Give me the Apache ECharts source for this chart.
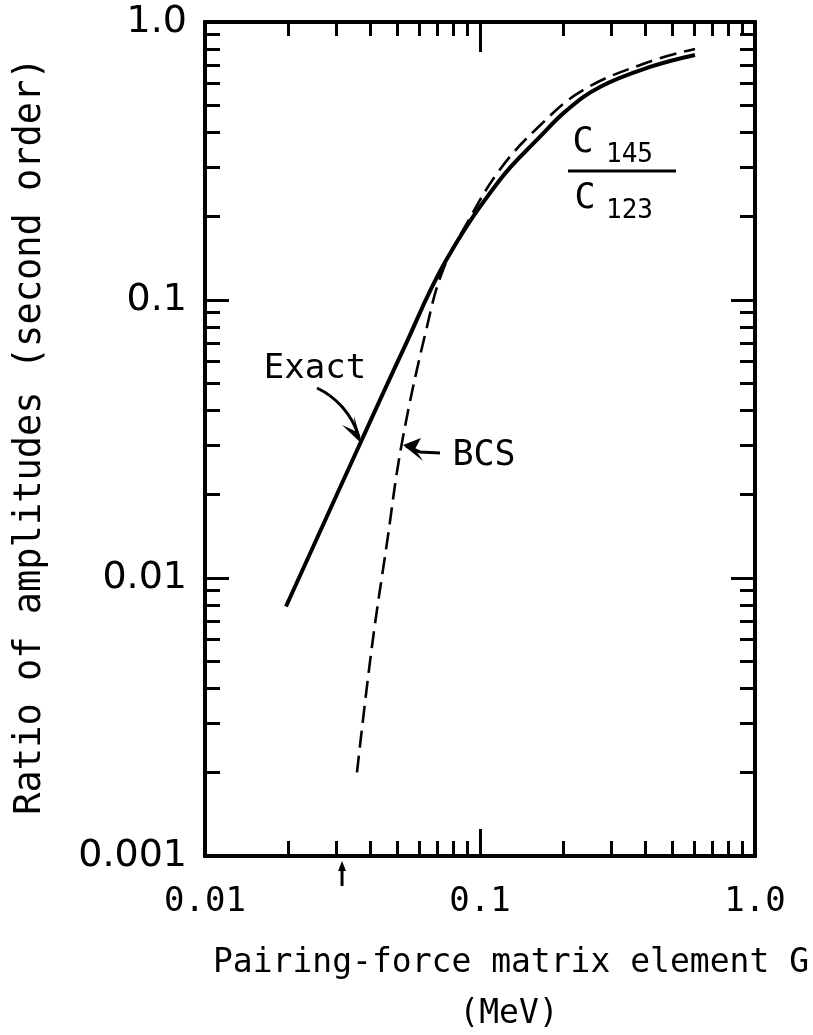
<!DOCTYPE html>
<html>
<head>
<meta charset="utf-8">
<script src="https://cdn.jsdelivr.net/npm/echarts@6/dist/echarts.min.js"></script>
<style>
  html, body { margin: 0; padding: 0; background: #fff; }
  #chart { width: 813px; height: 1035px; }
</style>
</head>
<body>
<div id="chart"></div>
<script>
// 曲线数据
const G_EXACT = [0.0197, 0.0369, 0.0525, 0.075, 0.118, 0.165, 0.207, 0.273, 0.415, 0.605];
const R_EXACT = [0.0079, 0.0309, 0.066, 0.138, 0.27, 0.386, 0.482, 0.584, 0.689, 0.761];

const G_BCS = [0.0357, 0.0404, 0.0459, 0.052, 0.0641, 0.0733, 0.0897, 0.118, 0.163, 0.237, 0.41, 0.605];
const R_BCS = [0.0020, 0.0056, 0.0134, 0.0306, 0.080, 0.128, 0.189, 0.294, 0.419, 0.569, 0.718, 0.80];

// 刻度
const X_LABEL_VALUES = [0.01, 0.1, 1];
const X_LABELS = ['0.01', '0.1', '1.0'];
const Y_LABEL_VALUES = [0.001, 0.01, 0.1, 1];
const Y_LABELS = ['0.001', '0.01', '0.1', '1.0'];
const X_MINOR = [0.02, 0.03, 0.04, 0.05, 0.06, 0.07, 0.08, 0.09,
                 0.2, 0.3, 0.4, 0.5, 0.6, 0.7, 0.8, 0.9];
const X_MAJOR = [0.1];
const Y_MINOR = [0.002, 0.003, 0.004, 0.005, 0.006, 0.007, 0.008, 0.009,
                 0.02, 0.03, 0.04, 0.05, 0.06, 0.07, 0.08, 0.09,
                 0.2, 0.3, 0.4, 0.5, 0.6, 0.7, 0.8, 0.9];
const Y_MAJOR = [0.01, 0.1];

const ARROW_G = 0.0315;   // 横轴下方的小箭头

const INK = '#000';
const MONO = '"DejaVu Sans Mono", monospace';
const SANS = '"DejaVu Sans", sans-serif';

function pickLabel(values, labels, v) {
    let best = 0, d = Infinity;
    values.forEach((x, i) => {
        const dd = Math.abs(Math.log10(x) - Math.log10(v));
        if (dd < d) { d = dd; best = i; }
    });
    return labels[best];
}

function xAxisDef(pos, ticks, len, withLabels) {
    return {
        type: 'log', logBase: 10, min: 0.01, max: 1, position: pos,
        axisLine: { show: true, lineStyle: { color: INK, width: 4 } },
        axisTick: { show: true, inside: true, length: len, customValues: ticks,
                    lineStyle: { color: INK, width: 3 } },
        axisLabel: withLabels ? {
            show: true, customValues: X_LABEL_VALUES, margin: 29,
            fontFamily: MONO, fontSize: 34, color: INK,
            formatter: v => pickLabel(X_LABEL_VALUES, X_LABELS, v)
        } : { show: false },
        splitLine: { show: false }
    };
}

function yAxisDef(pos, ticks, len, withLabels) {
    return {
        type: 'log', logBase: 10, min: 0.001, max: 1, position: pos,
        axisLine: { show: true, lineStyle: { color: INK, width: 4 } },
        axisTick: { show: true, inside: true, length: len, customValues: ticks,
                    lineStyle: { color: INK, width: 3 } },
        axisLabel: withLabels ? {
            show: true, customValues: Y_LABEL_VALUES, margin: 18,
            fontFamily: SANS, fontSize: 38, color: INK,
            formatter: v => pickLabel(Y_LABEL_VALUES, Y_LABELS, v)
        } : { show: false },
        splitLine: { show: false }
    };
}

const chart = echarts.init(document.getElementById('chart'), null, { renderer: 'canvas' });

const option = {
    animation: false,
    backgroundColor: '#fff',
    grid: { left: 205, top: 22, width: 550, height: 834 },
    xAxis: [
        xAxisDef('bottom', X_MINOR, 15, true),
        xAxisDef('top', X_MINOR, 14, false),
        xAxisDef('bottom', X_MAJOR, 27, false),
        xAxisDef('top', X_MAJOR, 30, false)
    ],
    yAxis: [
        yAxisDef('left', Y_MINOR, 15, true),
        yAxisDef('right', Y_MINOR, 15, false),
        yAxisDef('left', Y_MAJOR, 24, false),
        yAxisDef('right', Y_MAJOR, 24, false)
    ],
    series: [
        {
            name: 'Exact', type: 'line', smooth: 0.4, symbol: 'none',
            data: G_EXACT.map((g, i) => [g, R_EXACT[i]]),
            lineStyle: { color: INK, width: 4 }
        },
        {
            name: 'BCS', type: 'line', smooth: 0.4, symbol: 'none',
            data: G_BCS.map((g, i) => [g, R_BCS[i]]),
            lineStyle: { color: INK, width: 2.6, type: [17, 8] }
        }
    ]
};
chart.setOption(option);

// 注释：文字、箭头
const ap = chart.convertToPixel({ xAxisIndex: 0, yAxisIndex: 0 }, [ARROW_G, 0.001]);
const ax = ap[0], ay = ap[1];

chart.setOption({
    graphic: [
        // 纵轴标题
        { type: 'text', x: 30, y: 436, rotation: Math.PI / 2,
          style: { text: 'Ratio of amplitudes (second order)', font: '37px ' + MONO,
                   fill: INK, align: 'center', verticalAlign: 'middle' } },
        // 横轴标题
        { type: 'text', x: 511, y: 963,
          style: { text: 'Pairing-force matrix element G', font: '33px ' + MONO,
                   fill: INK, align: 'center', verticalAlign: 'middle' } },
        { type: 'text', x: 509, y: 1014,
          style: { text: '(MeV)', font: '33px ' + MONO,
                   fill: INK, align: 'center', verticalAlign: 'middle' } },
        // Exact
        { type: 'text', x: 315, y: 369,
          style: { text: 'Exact', font: '34px ' + MONO, fill: INK,
                   align: 'center', verticalAlign: 'middle' } },
        { type: 'bezierCurve',
          shape: { x1: 317, y1: 388, cpx1: 336, cpy1: 397, cpx2: 352, cpy2: 414, x2: 359, y2: 437 },
          style: { stroke: INK, lineWidth: 3, fill: null } },
        { type: 'polygon',
          shape: { points: [[362, 444], [342, 425], [355, 431], [354, 416]] },
          style: { fill: INK } },
        // BCS
        { type: 'text', x: 484, y: 456,
          style: { text: 'BCS', font: '35px ' + MONO, fill: INK,
                   align: 'center', verticalAlign: 'middle' } },
        { type: 'polyline',
          shape: { points: [[440, 453], [420, 452], [406, 446]] },
          style: { stroke: INK, lineWidth: 3, fill: null } },
        { type: 'polygon',
          shape: { points: [[403, 445], [421, 438], [415, 449], [423, 461]] },
          style: { fill: INK } },
        // C145 / C123
        { type: 'text', x: 583, y: 143,
          style: { text: 'C', font: '35px ' + MONO, fill: INK,
                   align: 'center', verticalAlign: 'middle' } },
        { type: 'text', x: 606, y: 155,
          style: { text: '145', font: '26px ' + MONO, fill: INK,
                   align: 'left', verticalAlign: 'middle' } },
        { type: 'line', shape: { x1: 568, y1: 171, x2: 676, y2: 171 },
          style: { stroke: INK, lineWidth: 3 } },
        { type: 'text', x: 585, y: 199,
          style: { text: 'C', font: '35px ' + MONO, fill: INK,
                   align: 'center', verticalAlign: 'middle' } },
        { type: 'text', x: 606, y: 211,
          style: { text: '123', font: '26px ' + MONO, fill: INK,
                   align: 'left', verticalAlign: 'middle' } },
        // 横轴下的小箭头
        { type: 'line', shape: { x1: ax, y1: ay + 30, x2: ax, y2: ay + 12 },
          style: { stroke: INK, lineWidth: 3 } },
        { type: 'polygon',
          shape: { points: [[ax, ay + 5], [ax - 4, ay + 15], [ax + 4, ay + 15]] },
          style: { fill: INK } }
    ]
});
</script>
</body>
</html>
